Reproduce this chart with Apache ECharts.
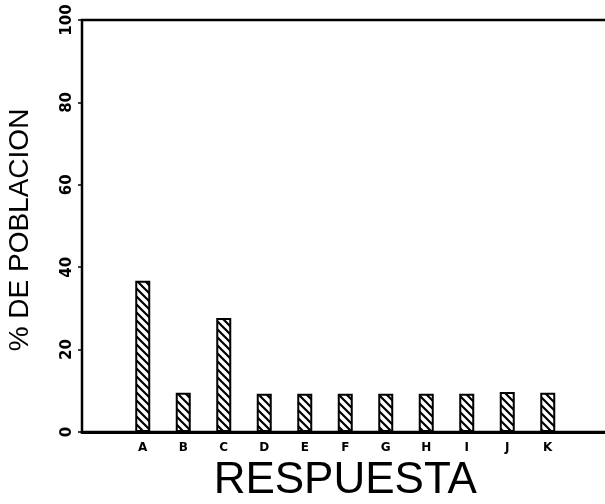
<!DOCTYPE html>
<html>
<head>
<meta charset="utf-8">
<script src="https://cdn.jsdelivr.net/npm/echarts@6/dist/echarts.min.js"></script>
<style>html,body{margin:0;padding:0;background:#fff}#c{width:605px;height:504px}</style>
</head>
<body>
<div id="c"></div>
<script>
const categories = ['', 'A', 'B', 'C', 'D', 'E', 'F', 'G', 'H', 'I', 'J', 'K', ''];
const values = [null, 36.7, 9.5, 27.7, 9.3, 9.3, 9.3, 9.3, 9.3, 9.3, 9.7, 9.5, null];
const yTicks = [0, 20, 40, 60, 80, 100];
const xTitle = 'RESPUESTA';
const yTitle = '% DE POBLACION';

// diagonal hatch pattern ("\\\\")
const pc = document.createElement('canvas');
pc.width = 8; pc.height = 8;
const g = pc.getContext('2d');
g.fillStyle = '#fff'; g.fillRect(0, 0, 8, 8);
g.strokeStyle = '#000'; g.lineWidth = 2.2;
g.beginPath();
g.moveTo(-2, -2); g.lineTo(10, 10);
g.moveTo(-2, 6); g.lineTo(2, 10);
g.moveTo(6, -2); g.lineTo(10, 2);
g.stroke();

const chart = echarts.init(document.getElementById('c'), null, {renderer: 'canvas'});
chart.setOption({
  animation: false,
  backgroundColor: '#fff',
  grid: {
    left: 82, top: 20, bottom: 72, right: -3.5,
    outerBoundsMode: 'none', containLabel: false,
    show: true, borderColor: '#000', borderWidth: 2.5, backgroundColor: 'transparent'
  },
  xAxis: {
    type: 'category',
    data: categories,
    boundaryGap: true,
    name: xTitle,
    nameLocation: 'middle',
    nameGap: 27,
    nameTextStyle: {fontFamily: 'Liberation Sans', fontSize: 44, color: '#000'},
    axisLine: {lineStyle: {color: '#000', width: 3}},
    axisTick: {alignWithLabel: true, length: 5, lineStyle: {color: '#000', width: 2}},
    axisLabel: {fontFamily: 'DejaVu Sans', fontWeight: 'bold', fontSize: 12, color: '#000', margin: 10, interval: 0},
    splitLine: {show: false}
  },
  yAxis: {
    type: 'value',
    min: yTicks[0], max: yTicks[yTicks.length - 1], interval: 20,
    name: yTitle,
    nameLocation: 'middle',
    nameRotate: 90,
    nameGap: 48,
    nameTextStyle: {fontFamily: 'Liberation Sans', fontSize: 28, color: '#000', padding: [0, 0, 0, -8]},
    axisLine: {show: true, lineStyle: {color: '#000', width: 2}},
    axisTick: {show: true, length: 4, lineStyle: {color: '#000', width: 1.5}},
    axisLabel: {rotate: 90, fontFamily: 'DejaVu Sans', fontWeight: 'bold', fontSize: 15, color: '#000', margin: 7},
    splitLine: {show: false}
  },
  series: [{
    type: 'bar',
    data: values,
    barWidth: 15,
    itemStyle: {
      color: {image: pc, repeat: 'repeat'},
      borderColor: '#000',
      borderWidth: 2
    }
  }]
});
</script>
</body>
</html>
